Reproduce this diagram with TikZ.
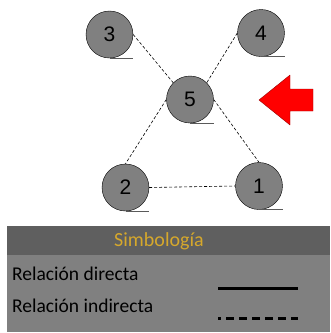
\documentclass[tikz,border=0pt]{standalone}
\usepackage{fontspec}
\setmainfont{Liberation Sans}
\newfontfamily\calibri{Carlito}
\definecolor{nodogris}{RGB}{128,128,128}
\definecolor{colagris}{RGB}{90,90,90}
\definecolor{cabecera}{RGB}{95,95,95}
\definecolor{cuerpo}{RGB}{128,128,128}
\definecolor{titulo}{RGB}{214,168,44}

\begin{document}
\begin{tikzpicture}[x=1pt,y=-1pt,
  nodo/.style={circle,draw=black,fill=nodogris,minimum size=47pt,inner sep=0pt,
    font=\fontsize{21}{21}\selectfont},
  indirecta/.style={black,line width=0.6pt,dash pattern=on 3pt off 2pt},
  leyenda/.style={anchor=west,inner sep=0pt,font=\calibri\fontsize{19.5}{19.5}\selectfont}]
\useasboundingbox (0,0) rectangle (331,333);
% nodos
\node[nodo] (n1) at (259,186) {1};
\node[nodo] (n2) at (125.5,187.5) {2};
\node[nodo] (n3) at (109.5,34.5) {3};
\node[nodo] (n4) at (261,33) {4};
\node[nodo] (n5) at (190,99.5) {5};
\foreach \k in {1,...,5}
  \draw[colagris,line width=1pt] (n\k.south) -- ++(23.5,0);
% relaciones
\draw[indirecta] (n3.east) -- (n5.north west);
\draw[indirecta] (n4.west) -- (n5.north east);
\draw[indirecta] (n5.west) -- (n2.north);
\draw[indirecta] (n5.east) -- (n1.north);
\draw[indirecta] (n2.east) -- (n1.west);
% flecha
\draw[red!60!black,fill=red,line join=round] (259,100) -- (290,75) -- (290,89) -- (313,89)
  -- (313,111) -- (290,111) -- (290,125) -- cycle;
% simbologia
\fill[cabecera] (7,226) rectangle (330,255);
\fill[cuerpo] (7,255) rectangle (330,332);
\node[font=\calibri\fontsize{20}{20}\selectfont,text=titulo] (tit) at (159,241) {Simbología};
\node[leyenda] (dir) at (12,274) {Relación directa};
\node[leyenda] (ind) at (12,306) {Relación indirecta};
\coordinate (d1) at (218,288);
\coordinate (d2) at (298,288);
\coordinate (i1) at (218,318);
\coordinate (i2) at (298,318);
\draw[black,line width=3pt] (d1) -- (d2);
\draw[black,line width=3pt,dash pattern=on 8pt off 5pt,dash phase=5pt] (i1) -- (i2);
\end{tikzpicture}
\end{document}
